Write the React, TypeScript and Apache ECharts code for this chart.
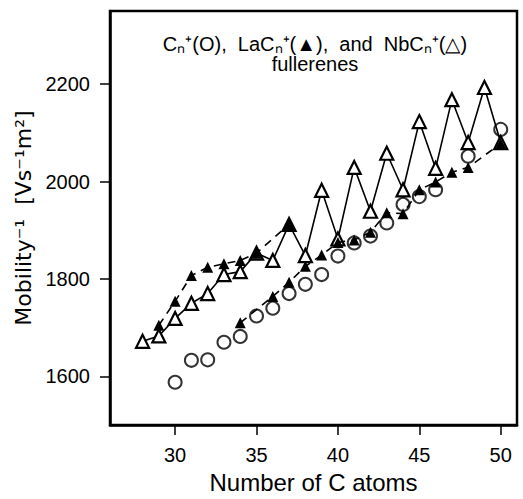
import React, { useEffect, useRef } from "react";
import * as echarts from "echarts";

// Number of C atoms (x) and inverse mobility (y)
const cnAtoms = [30, 31, 32, 33, 34, 35, 36, 37, 38, 39, 40, 41, 42, 43, 44, 45, 46, 48, 50];
const cnValues = [1588, 1633, 1634, 1670, 1682, 1724, 1740, 1770, 1789, 1809, 1847, 1874, 1888, 1915, 1953, 1969, 1983, 2052, 2107];

const laUpperAtoms = [29, 30, 31, 32, 33, 34, 35, 37];
const laUpperValues = [1705, 1754, 1807, 1824, 1831, 1838, 1853, 1912];

const laLowerAtoms = [34, 36, 37, 38, 39, 40, 41, 42, 43, 44, 45, 46, 47, 48, 50];
const laLowerValues = [1710, 1764, 1793, 1826, 1849, 1875, 1880, 1896, 1936, 1934, 1983, 1999, 2019, 2029, 2078];

const nbAtoms = [28, 29, 30, 31, 32, 33, 34, 35, 36, 37, 38, 39, 40, 41, 42, 43, 44, 45, 46, 47, 48, 49, 50];
const nbValues = [1672, 1683, 1719, 1750, 1770, 1809, 1815, 1853, 1838, 1912, 1848, 1982, 1882, 2029, 1939, 2058, 1983, 2123, 2027, 2168, 2080, 2193, 2080];

const xTicks = [30, 35, 40, 45, 50];
const yTicks = [1600, 1800, 2000, 2200];

const pairs = (xs: number[], ys: number[]) => xs.map((x, i) => [x, ys[i]]);

const FONT = "Liberation Sans";

export default function App() {
  const ref = useRef<HTMLDivElement>(null);
  useEffect(() => {
    if (!ref.current) return;
    const chart = echarts.init(ref.current, null, { renderer: "svg" });
    chart.setOption({
      animation: false,
      backgroundColor: "#fff",
      grid: {
        left: 110,
        top: 11,
        right: 6,
        bottom: 59,
        show: true,
        borderColor: "#000",
        borderWidth: 2.5,
      },
      xAxis: {
        type: "value",
        min: 26,
        max: 51,
        name: "Number of C atoms",
        nameLocation: "middle",
        nameGap: 40,
        nameTextStyle: { fontFamily: FONT, fontSize: 24, color: "#000" },
        axisLine: { show: true, lineStyle: { color: "#000", width: 2.5 } },
        axisTick: { show: true, inside: false, length: 10, customValues: xTicks, lineStyle: { color: "#000", width: 1.5 } },
        axisLabel: { customValues: xTicks, margin: 20, fontFamily: FONT, fontSize: 20, color: "#000", formatter: (v: number) => String(v) },
        splitLine: { show: false },
      },
      yAxis: {
        type: "value",
        min: 1500,
        max: 2350,
        name: "Mobility⁻¹  [Vs⁻¹m²]",
        nameLocation: "middle",
        nameGap: 68,
        nameTextStyle: { fontFamily: "DejaVu Sans", fontSize: 22, color: "#000" },
        axisLine: { show: true, lineStyle: { color: "#000", width: 2.5 } },
        axisTick: { show: true, inside: false, length: 10, customValues: yTicks, lineStyle: { color: "#000", width: 1.5 } },
        axisLabel: { customValues: yTicks, margin: 20, fontFamily: FONT, fontSize: 20, color: "#000", formatter: (v: number) => String(v) },
        splitLine: { show: false },
      },
      graphic: [
        {
          type: "text",
          x: 315,
          y: 44,
          style: {
            text: "Cₙ⁺(O),  LaCₙ⁺(▲),  and  NbCₙ⁺(△)",
            fontFamily: FONT,
            fontSize: 20,
            fill: "#000",
            align: "center",
            verticalAlign: "middle",
          },
        },
        {
          type: "text",
          x: 315,
          y: 64,
          style: {
            text: "fullerenes",
            fontFamily: FONT,
            fontSize: 20,
            fill: "#000",
            align: "center",
            verticalAlign: "middle",
          },
        },
      ],
      series: [
        {
          name: "Cn+",
          type: "scatter",
          data: pairs(cnAtoms, cnValues),
          symbol: "circle",
          symbolSize: 13,
          itemStyle: { color: "#fff", borderColor: "#000", borderWidth: 2 },
          z: 2,
        },
        {
          name: "NbCn+",
          type: "line",
          data: pairs(nbAtoms, nbValues),
          symbol: "triangle",
          symbolSize: 13,
          showAllSymbol: true,
          lineStyle: { color: "#000", width: 1.6 },
          itemStyle: { color: "#fff", borderColor: "#000", borderWidth: 2.2 },
          z: 3,
        },
        {
          name: "LaCn+ upper",
          type: "line",
          data: pairs(laUpperAtoms, laUpperValues),
          symbol: "triangle",
          symbolSize: 11,
          showAllSymbol: true,
          lineStyle: { color: "#000", width: 1.6, type: [8, 6] },
          itemStyle: { color: "#000", borderColor: "#000", borderWidth: 0 },
          z: 4,
        },
        {
          name: "LaCn+ lower",
          type: "line",
          data: pairs(laLowerAtoms, laLowerValues),
          symbol: "triangle",
          symbolSize: 11,
          showAllSymbol: true,
          lineStyle: { color: "#000", width: 1.6, type: [8, 6] },
          itemStyle: { color: "#000", borderColor: "#000", borderWidth: 0 },
          z: 4,
        },
      ],
    });
    return () => chart.dispose();
  }, []);
  return (
    <div
      ref={ref}
      style={{ position: "absolute", left: 0, top: 0, width: 523, height: 499 }}
    />
  );
}
